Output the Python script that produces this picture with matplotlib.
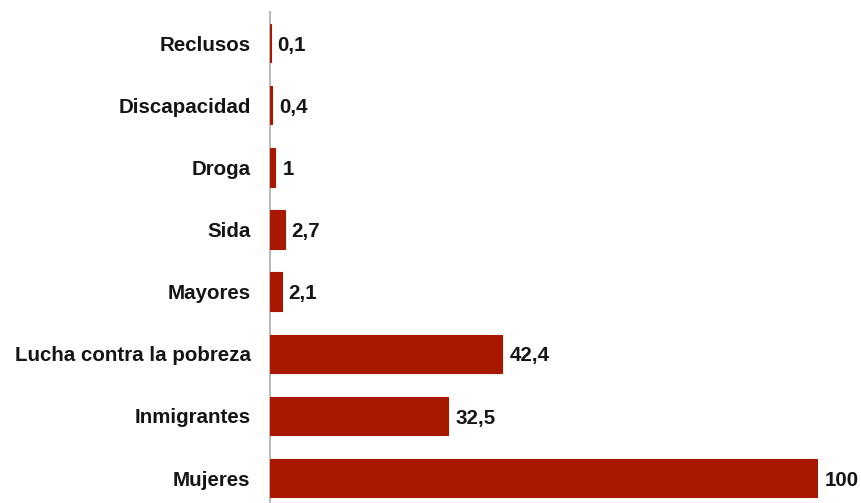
import matplotlib
matplotlib.use("Agg")
import matplotlib.pyplot as plt

categories = ["Mujeres", "Inmigrantes", "Lucha contra la pobreza", "Mayores",
              "Sida", "Droga", "Discapacidad", "Reclusos"]
values = [100, 32.5, 42.4, 2.1, 2.7, 1, 0.4, 0.1]
labels = ["100", "32,5", "42,4", "2,1", "2,7", "1", "0,4", "0,1"]

plt.rcParams['font.family'] = ['Liberation Sans', 'DejaVu Sans']

fig = plt.figure(figsize=(8.62, 5.03), dpi=100)
ax = fig.add_axes([270/862, 0, (818-270)/862, 491/503])
color = "#A81800"
ypos = list(range(len(categories)))
ax.barh(ypos, values, height=0.62, color=color, edgecolor=color,
        linewidth=0.8, zorder=3)
for y, v, t in zip(ypos, values, labels):
    ax.annotate(t, (v, y), xytext=(5, -1.5), textcoords="offset points",
                va="center", ha="left", fontsize=14.8, fontweight="bold",
                color="#151515", clip_on=False, annotation_clip=False)
ax.set_xlim(0, 100)
ax.set_ylim(-0.4, 7.5)
ax.set_yticks(ypos)
ax.set_yticklabels(categories, fontsize=14.8, fontweight="bold", color="#151515",
                   va="center_baseline")
ax.tick_params(axis="y", length=0, pad=14)
ax.set_xticks([])
for s in ["top", "right", "bottom"]:
    ax.spines[s].set_visible(False)
ax.spines["left"].set_color("#BBBBBB")
ax.spines["left"].set_linewidth(1.5)
fig.savefig("out.png", dpi=100)
